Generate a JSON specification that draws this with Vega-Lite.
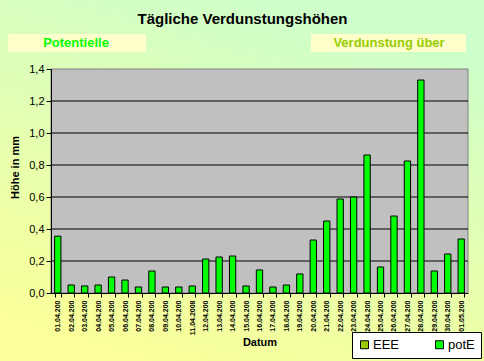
{
  "$schema": "https://vega.github.io/schema/vega-lite/v6.json",
  "width": 417,
  "height": 224,
  "autosize": {"type": "none"},
  "padding": {"left": 51, "top": 69, "right": 16, "bottom": 68},
  "background": "#E4FFB5",
  "title": {"text": "Tägliche Verdunstungshöhen", "font": "Liberation Sans", "fontSize": 15, "fontWeight": "bold", "color": "black", "anchor": "middle", "dx": -17, "offset": -27},
  "config": {
    "view": {"fill": null, "stroke": null},
    "font": "Liberation Sans",
    "axisY": {"labelOverlap": false}
  },
  "layer": [
    {
      "data": {"values": [{"t": "bg"}]},
      "mark": {"type": "rect", "fill": {"gradient": "linear", "x1": 0.7, "y1": 0, "x2": 0.3, "y2": 1, "stops": [{"offset": 0, "color": "#CCFFCC"}, {"offset": 1, "color": "#FAFF99"}]}},
      "encoding": {"x": {"value": -51}, "x2": {"value": 433}, "y": {"value": -69}, "y2": {"value": 292}}
    },
    {
      "data": {"values": [{"t": "plot"}]},
      "mark": {"type": "rect", "fill": "#C0C0C0", "stroke": "#808080", "strokeWidth": 1},
      "encoding": {"x": {"value": 0}, "x2": {"value": 417}, "y": {"value": 0}, "y2": {"value": 224}}
    },
    {
      "data": {"values": [{"g": 0.2}, {"g": 0.4}, {"g": 0.6}, {"g": 0.8}, {"g": 1.0}, {"g": 1.2}]},
      "mark": {"type": "rule", "color": "black", "strokeWidth": 1},
      "encoding": {
        "y": {
          "field": "g", "type": "quantitative",
          "scale": {"domain": [0, 1.4], "nice": false},
          "axis": {
            "values": [0, 0.2, 0.4, 0.6, 0.8, 1.0, 1.2, 1.4], "grid": false, "zindex": 1, "labelOverlap": false,
            "labelExpr": "replace(format(datum.value, '.1f'), '.', ',')",
            "title": "Höhe in mm", "titleFont": "Liberation Sans", "titleFontSize": 11, "titleFontWeight": "bold", "titleColor": "black",
            "titleX": -36, "titleY": 98, "titleAngle": -90, "titleBaseline": "middle", "titleAlign": "center",
            "labelFont": "Liberation Sans", "labelFontSize": 11, "labelColor": "black", "labelPadding": 2,
            "tickColor": "black", "tickSize": 5, "domainColor": "black"
          }
        },
        "x": {"value": 0}, "x2": {"value": 417}
      }
    },
    {
      "data": {"values": [{"t": "Potentielle"}]},
      "mark": {"type": "rect", "fill": "#FFFFCC"},
      "encoding": {"x": {"value": -43}, "x2": {"value": 95}, "y": {"value": -35}, "y2": {"value": -17}}
    },
    {
      "data": {"values": [{"t": "Verdunstung über"}]},
      "mark": {"type": "rect", "fill": "#FFFFCC"},
      "encoding": {"x": {"value": 260}, "x2": {"value": 415}, "y": {"value": -35}, "y2": {"value": -17}}
    },
    {
      "data": {"values": [{"t": "Potentielle"}]},
      "mark": {"type": "text", "font": "Liberation Sans", "fontSize": 13, "fontWeight": "bold", "color": "#00FF00", "align": "center", "baseline": "middle"},
      "encoding": {"text": {"field": "t"}, "x": {"value": 25}, "y": {"value": -26}}
    },
    {
      "data": {"values": [{"t": "Verdunstung über"}]},
      "mark": {"type": "text", "font": "Liberation Sans", "fontSize": 13, "fontWeight": "bold", "color": "#99CC00", "align": "center", "baseline": "middle"},
      "encoding": {"text": {"field": "t"}, "x": {"value": 338}, "y": {"value": -26}}
    },
    {
      "data": {"values": [
        {"d": "01.04.200", "s": "potE", "v": 0.355},
        {"d": "02.04.200", "s": "potE", "v": 0.05},
        {"d": "03.04.200", "s": "potE", "v": 0.044},
        {"d": "04.04.200", "s": "potE", "v": 0.05},
        {"d": "05.04.200", "s": "potE", "v": 0.1},
        {"d": "06.04.200", "s": "potE", "v": 0.081},
        {"d": "07.04.200", "s": "potE", "v": 0.0375},
        {"d": "08.04.200", "s": "potE", "v": 0.1375},
        {"d": "09.04.200", "s": "potE", "v": 0.0375},
        {"d": "10.04.200", "s": "potE", "v": 0.0375},
        {"d": "11.04.2008", "s": "potE", "v": 0.044},
        {"d": "12.04.200", "s": "potE", "v": 0.2125},
        {"d": "13.04.200", "s": "potE", "v": 0.225},
        {"d": "14.04.200", "s": "potE", "v": 0.231},
        {"d": "15.04.200", "s": "potE", "v": 0.044},
        {"d": "16.04.200", "s": "potE", "v": 0.144},
        {"d": "17.04.200", "s": "potE", "v": 0.0375},
        {"d": "18.04.200", "s": "potE", "v": 0.05},
        {"d": "19.04.200", "s": "potE", "v": 0.119},
        {"d": "20.04.200", "s": "potE", "v": 0.331},
        {"d": "21.04.200", "s": "potE", "v": 0.45},
        {"d": "22.04.200", "s": "potE", "v": 0.5875},
        {"d": "23.04.200", "s": "potE", "v": 0.6},
        {"d": "24.04.200", "s": "potE", "v": 0.8625},
        {"d": "25.04.200", "s": "potE", "v": 0.1625},
        {"d": "26.04.200", "s": "potE", "v": 0.481},
        {"d": "27.04.200", "s": "potE", "v": 0.825},
        {"d": "28.04.200", "s": "potE", "v": 1.331},
        {"d": "29.04.200", "s": "potE", "v": 0.1375},
        {"d": "30.04.200", "s": "potE", "v": 0.244},
        {"d": "01.05.200", "s": "potE", "v": 0.3375}
      ]},
      "mark": {"type": "bar", "stroke": "black", "strokeWidth": 1},
      "encoding": {
        "x": {
          "field": "d", "type": "nominal", "sort": null,
          "scale": {"paddingInner": 0.53, "paddingOuter": 0.27},
          "axis": {
            "title": "Datum", "labelAngle": -90, "labelFont": "Liberation Sans", "labelFontSize": 7, "labelFontWeight": "bold", "labelColor": "black",
            "tickBand": "extent", "tickColor": "black", "tickSize": 4, "domainColor": "black", "labelPadding": 3, "zindex": 1,
            "titleFont": "Liberation Sans", "titleFontSize": 11, "titleFontWeight": "bold", "titleColor": "black", "titlePadding": 2, "grid": false
          }
        },
        "y": {
          "field": "v", "type": "quantitative",
          "scale": {"domain": [0, 1.4], "nice": false},
          "axis": {
            "values": [0, 0.2, 0.4, 0.6, 0.8, 1.0, 1.2, 1.4], "grid": false, "zindex": 1, "labelOverlap": false,
            "labelExpr": "replace(format(datum.value, '.1f'), '.', ',')",
            "title": "Höhe in mm", "titleFont": "Liberation Sans", "titleFontSize": 11, "titleFontWeight": "bold", "titleColor": "black",
            "titleX": -36, "titleY": 98, "titleAngle": -90, "titleBaseline": "middle", "titleAlign": "center",
            "labelFont": "Liberation Sans", "labelFontSize": 11, "labelColor": "black", "labelPadding": 2,
            "tickColor": "black", "tickSize": 5, "domainColor": "black"
          }
        },
        "color": {
          "field": "s", "type": "nominal",
          "scale": {"domain": ["EEE", "potE"], "range": ["#99CC00", "#00FF00"]},
          "legend": {
            "title": null, "orient": "none", "legendX": 301, "legendY": 263, "direction": "horizontal",
            "fillColor": "white", "strokeColor": "black", "padding": 6,
            "symbolType": "square", "symbolSize": 64, "symbolStrokeColor": "black", "symbolStrokeWidth": 1, "symbolOpacity": 1,
            "labelFont": "Liberation Sans", "labelFontSize": 13, "labelColor": "black", "labelOffset": 2, "columnPadding": 33
          }
        }
      }
    }
  ]
}
